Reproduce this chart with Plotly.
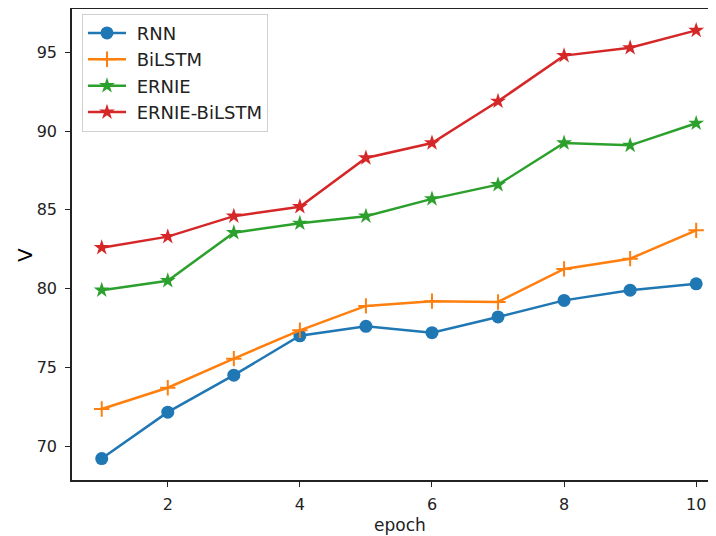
import plotly.graph_objects as go

epochs = [1, 2, 3, 4, 5, 6, 7, 8, 9, 10]
rnn = [69.2, 72.15, 74.5, 77.0, 77.6, 77.2, 78.2, 79.25, 79.9, 80.3]
bilstm = [72.35, 73.7, 75.55, 77.35, 78.9, 79.2, 79.15, 81.25, 81.9, 83.7]
ernie = [79.9, 80.5, 83.55, 84.15, 84.6, 85.7, 86.6, 89.25, 89.1, 90.5]
ernie_bilstm = [82.6, 83.3, 84.6, 85.2, 88.3, 89.25, 91.9, 94.8, 95.3, 96.4]
x_ticks = [2, 4, 6, 8, 10]
y_ticks = [70, 75, 80, 85, 90, 95]

series = [
    ("RNN", rnn, "#1f77b4", dict(symbol="circle", size=13)),
    ("BiLSTM", bilstm, "#ff7f0e", dict(symbol="cross-thin", size=11, line=dict(width=2, color="#ff7f0e"))),
    ("ERNIE", ernie, "#2ca02c", dict(symbol="star", size=12)),
    ("ERNIE-BiLSTM", ernie_bilstm, "#d62728", dict(symbol="star", size=12)),
]

fig = go.Figure()
for name, vals, color, mk in series:
    m = dict(color=color, **mk)
    fig.add_trace(go.Scatter(x=epochs, y=vals, mode="lines+markers", name=" " + name,
                             line=dict(color=color, width=2.5), marker=m))

# the page body adds an 8px offset; the figure is sized to fill the rest of the window
fig.update_layout(
    width=708, height=528,
    margin=dict(l=64, r=0, t=1, b=56),
    paper_bgcolor="white", plot_bgcolor="white",
    font=dict(family="DejaVu Sans", size=16, color="#222"),
    showlegend=True,
    legend=dict(x=0.0155, y=0.99, xanchor="left", yanchor="top",
                bordercolor="#d0d0d0", borderwidth=1, bgcolor="rgba(255,255,255,0.8)",
                font=dict(size=18, color="#222"), tracegroupgap=0, itemwidth=38),
    annotations=[
        dict(text="epoch", xref="paper", yref="paper", x=(400 - 72) / 644, y=-(525 - 480) / 471,
             xanchor="center", yanchor="middle", showarrow=False, font=dict(size=17, color="#222")),
        dict(text="V", xref="paper", yref="paper", x=-(72 - 25) / 644, y=(480 - 255) / 471,
             xanchor="center", yanchor="middle", showarrow=False, textangle=-90,
             font=dict(size=20, color="black")),
    ],
)
fig.update_xaxes(range=[0.55, 10.30], tickvals=x_ticks, automargin=False,
                 showgrid=False, zeroline=False, showline=True, linecolor="#222",
                 linewidth=1.5, mirror=True, ticks="outside", ticklen=5, tickcolor="#222",
                 tickfont=dict(size=16), ticklabelstandoff=4)
fig.update_yaxes(range=[67.84, 97.76], tickvals=y_ticks, automargin=False,
                 showgrid=False, zeroline=False, showline=True, linecolor="#222",
                 linewidth=1.5, mirror=False, ticks="outside", ticklen=5, tickcolor="#222",
                 tickfont=dict(size=16), ticklabelstandoff=5)

fig.write_html("out.html")
